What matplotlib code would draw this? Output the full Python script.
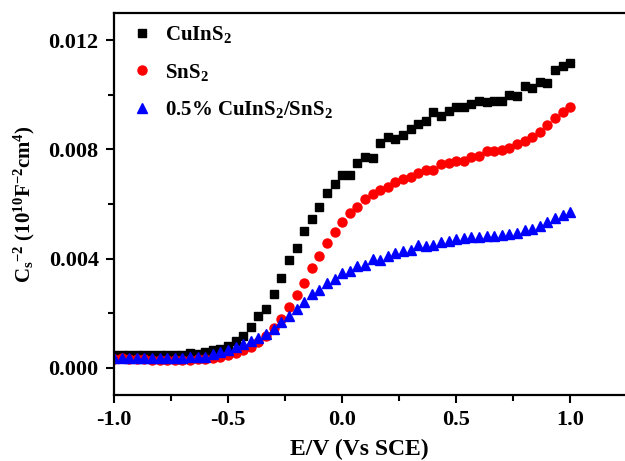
import matplotlib

matplotlib.use("Agg")
import matplotlib.pyplot as plt
import numpy as np
from matplotlib.ticker import MultipleLocator

# potential grid, 61 points from -1.0 to 1.0 V
E = np.linspace(-1.0, 1.0, 61)

cuins2 = [
    0.00045, 0.00047, 0.00045, 0.00046, 0.00048, 0.00046, 0.00045, 0.00046, 0.00045, 0.00046,
    0.00054, 0.00052, 0.00057, 0.00066, 0.00070, 0.00080, 0.00098, 0.00117, 0.00149, 0.00190,
    0.00215, 0.00270, 0.00330, 0.00395, 0.00440, 0.00500, 0.00545, 0.00590, 0.00640, 0.00675,
    0.00707, 0.00707, 0.00752, 0.00774, 0.00770, 0.00822, 0.00844, 0.00838, 0.00854, 0.00874,
    0.00893, 0.00905, 0.00938, 0.00923, 0.00941, 0.00956, 0.00956, 0.00966, 0.00978, 0.00972,
    0.00976, 0.00978, 0.01000, 0.00994, 0.01033, 0.01024, 0.01048, 0.01045, 0.01090, 0.01106,
    0.01116,
]
sns2 = [
    0.00033, 0.00034, 0.00033, 0.00032, 0.00031, 0.00030, 0.00029, 0.00028, 0.00028, 0.00029,
    0.00030, 0.00031, 0.00033, 0.00037, 0.00041, 0.00048, 0.00054, 0.00066, 0.00076, 0.00094,
    0.00118, 0.00146, 0.00179, 0.00222, 0.00265, 0.00311, 0.00365, 0.00411, 0.00456, 0.00499,
    0.00533, 0.00567, 0.00588, 0.00618, 0.00637, 0.00652, 0.00663, 0.00679, 0.00691, 0.00700,
    0.00712, 0.00724, 0.00724, 0.00746, 0.00750, 0.00756, 0.00759, 0.00773, 0.00777, 0.00793,
    0.00793, 0.00798, 0.00807, 0.00820, 0.00832, 0.00846, 0.00865, 0.00890, 0.00915, 0.00938,
    0.00954,
]
composite = [
    0.00037, 0.00037, 0.00037, 0.00037, 0.00037, 0.00037, 0.00037, 0.00037, 0.00037, 0.00037,
    0.00038, 0.00040, 0.00041, 0.00049, 0.00057, 0.00066, 0.00076, 0.00088, 0.00098, 0.00110,
    0.00124, 0.00143, 0.00167, 0.00191, 0.00216, 0.00240, 0.00271, 0.00285, 0.00310, 0.00326,
    0.00346, 0.00354, 0.00371, 0.00377, 0.00399, 0.00395, 0.00411, 0.00421, 0.00427, 0.00432,
    0.00448, 0.00445, 0.00448, 0.00460, 0.00463, 0.00470, 0.00476, 0.00478, 0.00478, 0.00482,
    0.00484, 0.00487, 0.00490, 0.00494, 0.00505, 0.00509, 0.00521, 0.00533, 0.00548, 0.00560,
    0.00570,
]

plt.rcParams["font.family"] = "Liberation Serif"
plt.rcParams["font.weight"] = "bold"
plt.rcParams["mathtext.fontset"] = "custom"
plt.rcParams["mathtext.rm"] = "Liberation Serif:bold"
plt.rcParams["mathtext.it"] = "Liberation Serif:bold"
plt.rcParams["mathtext.bf"] = "Liberation Serif:bold"

fig = plt.figure(figsize=(6.25, 4.61), dpi=100)
ax = fig.add_axes([0.1824, 0.1432, 0.8176, 0.8286])

ax.plot(E, cuins2, "s", color="black", markersize=6, label=r"CuInS$_2$")
ax.plot(E, sns2, "o", color="red", markersize=6.5, label=r"SnS$_2$")
ax.plot(E, composite, "^", color="blue", markersize=6.5, label=r"0.5% CuInS$_2$/SnS$_2$")

ax.set_xlim(-1.0, 1.24)
ax.set_ylim(-0.001, 0.013)
ax.set_xticks([-1.0, -0.5, 0.0, 0.5, 1.0])
ax.set_yticks([0.0, 0.004, 0.008, 0.012])
ax.xaxis.set_minor_locator(MultipleLocator(0.25))
ax.yaxis.set_minor_locator(MultipleLocator(0.002))
ax.set_xticklabels(["-1.0", "-0.5", "0.0", "0.5", "1.0"])
ax.set_yticklabels(["0.000", "0.004", "0.008", "0.012"])

ax.tick_params(which="major", direction="out", length=6, width=1.5, labelsize=16, pad=5, top=False, right=False)
ax.tick_params(which="minor", direction="out", length=4, width=1.5, top=False, right=False)
ax.spines["right"].set_visible(False)
for spine in ["left", "bottom", "top"]:
    ax.spines[spine].set_linewidth(1.6)

ax.set_xlabel("E/V (Vs SCE)", fontsize=17, fontweight="bold", labelpad=5)
ax.xaxis.set_label_coords(0.481, -0.115)
ax.set_ylabel(r"C$_s$$^{-2}$ (10$^{10}$F$^{-2}$cm$^{4}$)", fontsize=15, fontweight="bold", labelpad=8)

ax.legend(
    loc="upper left",
    bbox_to_anchor=(0.0, 1.012),
    frameon=False,
    handletextpad=0.5,
    labelspacing=0.8,
    borderaxespad=0.35,
    handlelength=1.2,
    prop={"weight": "bold", "size": 15},
)

fig.savefig("out.png", dpi=100)
plt.close(fig)
